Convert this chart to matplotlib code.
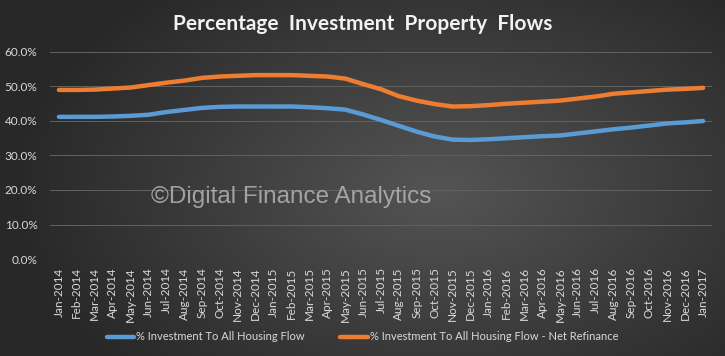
import numpy as np
import matplotlib
matplotlib.use("Agg")
from matplotlib import pyplot as plt
from matplotlib.ticker import PercentFormatter

months = ["Jan", "Feb", "Mar", "Apr", "May", "Jun",
          "Jul", "Aug", "Sep", "Oct", "Nov", "Dec"]
labels = [f"{m}-{y}" for y in (2014, 2015, 2016) for m in months] + ["Jan-2017"]

invest_all = [41.2, 41.2, 41.2, 41.3, 41.5, 41.8, 42.6, 43.2, 43.8, 44.1,
              44.2, 44.2, 44.2, 44.2, 44.0, 43.7, 43.3, 41.9, 40.3, 38.6,
              36.9, 35.5, 34.6, 34.5, 34.7, 35.0, 35.3, 35.6, 35.8, 36.4,
              37.0, 37.6, 38.1, 38.7, 39.3, 39.6, 40.0]
invest_net_refi = [49.0, 49.0, 49.1, 49.4, 49.7, 50.4, 51.1, 51.7, 52.5, 52.9,
                   53.1, 53.3, 53.3, 53.3, 53.1, 52.9, 52.3, 50.7, 49.2, 47.2,
                   45.9, 44.9, 44.2, 44.3, 44.6, 45.0, 45.3, 45.6, 45.9, 46.5,
                   47.1, 47.9, 48.3, 48.7, 49.1, 49.3, 49.6]

plt.rcParams['font.family'] = ['Lato', 'DejaVu Sans']

W, H = 725, 356
fig = plt.figure(figsize=(W / 100, H / 100), dpi=100)

# radial gradient background
bg = fig.add_axes([0, 0, 1, 1], zorder=-10)
yy, xx = np.mgrid[0:H, 0:W]
r = np.sqrt(((xx - 440) / 420.0) ** 2 + ((yy - 190) / 260.0) ** 2)
shade = np.clip(0.33 - 0.17 * r, 0.16, 0.33)
bg.imshow(np.dstack([shade] * 3), aspect="auto", extent=[0, 1, 0, 1])
bg.axis("off")

ax = fig.add_axes([50 / W, 1 - 259 / H, 662 / W, 207 / H])
ax.patch.set_alpha(0)
x = np.arange(len(labels))
ax.plot(x, invest_all, color="#5b9bd5", lw=3.2, solid_capstyle="round",
        label="% Investment To All Housing Flow")
ax.plot(x, invest_net_refi, color="#ed7d31", lw=3.2, solid_capstyle="round",
        label="% Investment To All Housing Flow - Net Refinance")

ax.set_xlim(-0.5, len(labels) - 0.5)
ax.set_ylim(0, 60)
ax.set_yticks(np.arange(0, 61, 10))
ax.yaxis.set_major_formatter(PercentFormatter(decimals=1))
ax.set_xticks(x)
ax.set_xticklabels(labels, rotation=90)
ax.grid(axis="y", color="#626262", lw=0.7)
ax.set_axisbelow(True)
for s in ax.spines.values():
    s.set_visible(False)
ax.tick_params(length=0, colors="#d9d9d9", labelsize=8.5)
ax.tick_params(axis="y", pad=9)
ax.tick_params(axis="x", pad=6)

fig.text(0.5, 1 - 24 / H, "Percentage  Investment  Property  Flows",
         ha="center", va="center", color="#f2f2f2", fontsize=15,
         fontweight="bold")

fig.text(291 / W, 1 - 197 / H, "\u00a9Digital Finance Analytics",
         ha="center", va="center", color="#b4b4b4", fontsize=17.5,
         family="Liberation Sans", alpha=0.85)

leg = fig.legend(loc="center", bbox_to_anchor=(0.5, 1 - 337 / H), ncol=2,
                 frameon=False, fontsize=8, handlelength=2.5,
                 columnspacing=3.2, handletextpad=0.15)
for t in leg.get_texts():
    t.set_color("#d9d9d9")

fig.savefig("out.png", dpi=100)
